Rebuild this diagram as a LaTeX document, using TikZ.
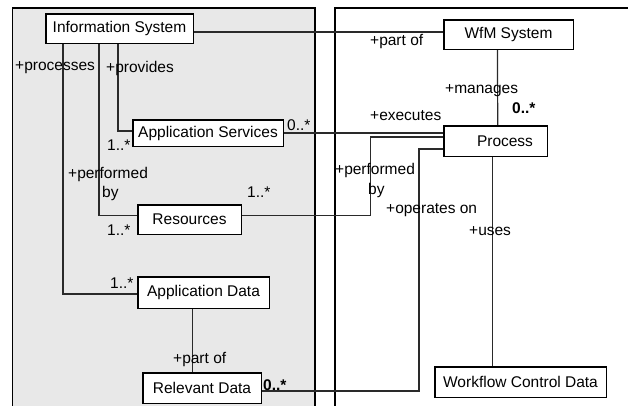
\documentclass[tikz,border=0pt]{standalone}
\usepackage{fontspec}
\setmainfont{Liberation Sans}
\definecolor{panelgrey}{HTML}{E8E8E8}
\definecolor{wire}{HTML}{2A2A2A}
\begin{document}
\begin{tikzpicture}[x=1pt,y=-1pt,
  every node/.style={font=\fontsize{15.5}{18}\selectfont},
  cls/.style={draw=black, fill=white, line width=0.9pt, inner sep=0pt},
  lbl/.style={anchor=west, inner sep=0pt, text=black},
  conn/.style={draw=wire, line width=1.2pt},
  panel/.style={draw=black, line width=1.1pt}]
\useasboundingbox (0,0) rectangle (628,406);
\fill[white] (0,0) rectangle (628,406);

% package panels
\fill[panelgrey] (12.5,8) rectangle (315,406);
\draw[panel] (12.5,406) -- (12.5,8) -- (315,8) -- (315,406);
\draw[panel] (335,406) -- (335,8) -- (628,8);

% classes
\node[cls, minimum width=147pt, minimum height=29pt] (IS) at (119.5,28.5) {Information System};
\node[cls, minimum width=150pt, minimum height=26pt] (AS) at (208,133) {Application Services};
\node[cls, minimum width=103pt, minimum height=29pt] (RS) at (189.5,219.5) {Resources};
\node[cls, minimum width=131pt, minimum height=31pt] (AD) at (203.5,292.5) {Application Data};
\node[cls, minimum width=118pt, minimum height=30pt] (RD) at (202,388) {Relevant Data};
\node[cls, minimum width=129pt, minimum height=29pt] (WS) at (508.5,34.5) {WfM System};
\node[cls, minimum width=103pt, minimum height=30pt] (PR) at (495.5,141) {\hspace*{19pt}Process};
\node[cls, minimum width=171pt, minimum height=30pt] (WC) at (520.5,382) {Workflow Control Data};

% bend points
\coordinate (rp) at (370.7,137);
\coordinate (dp) at (419,149);

% associations
\draw[conn] ([yshift=-3.5pt]IS.east) -- ([yshift=2.5pt]WS.west);
\draw[conn] ([xshift=-11pt]WS.south) -- ([xshift=2.2pt]PR.north);
\draw[conn] ([xshift=-1.5pt]IS.south) |- ([yshift=2pt]AS.west);
\draw[conn] ([xshift=-20.5pt]IS.south) |- ([yshift=3.8pt]RS.west);
\draw[conn] ([xshift=-56.5pt]IS.south) |- ([yshift=-1.5pt]AD.west);
\draw[conn] (AS.east) -- ([yshift=8pt]PR.west);
\draw[conn] ([yshift=3.8pt]RS.east) -| (rp) -- ([yshift=4pt]PR.west);
\draw[conn] ([yshift=-3pt]RD.east) -| (dp) -- ([yshift=-8pt]PR.west);
\draw[conn] ([xshift=-10.8pt]AD.south) -- ([xshift=-9.3pt]RD.north);
\draw[conn] ([xshift=-2.8pt]PR.south) -- ([xshift=-27.8pt]WC.north);

% class outlines on top of the connectors
\foreach \n in {IS,AS,RS,AD,RD,WS,PR,WC}{
  \draw[black, line width=0.9pt] (\n.north west) rectangle (\n.south east);
}

% role names and multiplicities
\node[lbl] (l1) at (370,42) {+part of};
\node[lbl] (l2) at (445,91) {+manages};
\node[lbl] (l3) at (512,108) {\bfseries 0..*};
\node[lbl] (l4) at (370,116) {+executes};
\node[lbl] (l5) at (287,125) {0..*};
\node[lbl] (l6) at (15,68) {+processes};
\node[lbl] (l7) at (106,68) {+provides};
\node[lbl] (l8) at (107,145) {1..*};
\node[lbl] (l9) at (68,174) {+performed};
\node[lbl] (l10) at (102,193) {by};
\node[lbl] (l11) at (247,192) {1..*};
\node[lbl] (l12) at (107,230) {1..*};
\node[lbl] (l13) at (335,170) {+performed};
\node[lbl] (l14) at (368,190) {by};
\node[lbl] (l15) at (386,210) {+operates on};
\node[lbl] (l16) at (469,231) {+uses};
\node[lbl] (l17) at (110,283) {1..*};
\node[lbl] (l18) at (173,359) {+part of};
\node[lbl] (l19) at (263,385) {\bfseries 0..*};
\end{tikzpicture}
\end{document}
